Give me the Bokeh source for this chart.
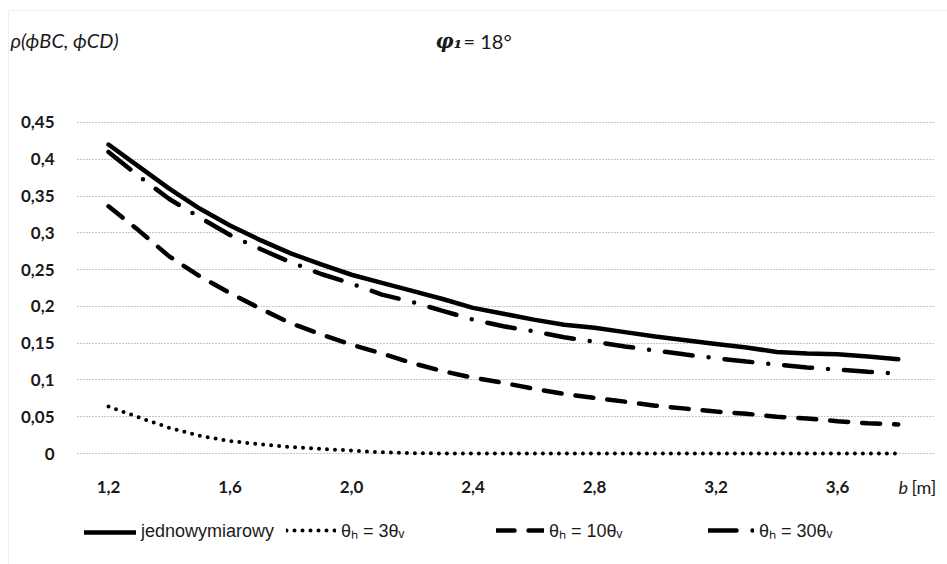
from bokeh.plotting import figure
from bokeh.models import (Legend, LegendItem, Label, FixedTicker, BoxAnnotation, Range1d)
from bokeh.embed import file_html
from bokeh.resources import INLINE

# ---- data ----
b_values = [1.2, 1.3, 1.4, 1.5, 1.6, 1.7, 1.8, 1.9, 2.0, 2.1, 2.2, 2.3, 2.4,
            2.5, 2.6, 2.7, 2.8, 2.9, 3.0, 3.1, 3.2, 3.3, 3.4, 3.5, 3.6, 3.7, 3.8]
rho_jednowymiarowy = [0.420, 0.390, 0.360, 0.333, 0.310, 0.290, 0.272, 0.257, 0.243,
                      0.232, 0.221, 0.210, 0.198, 0.190, 0.182, 0.175, 0.171, 0.165,
                      0.159, 0.154, 0.149, 0.144, 0.138, 0.136, 0.135, 0.132, 0.128]
rho_3 = [0.064, 0.049, 0.035, 0.024, 0.017, 0.0125, 0.0087, 0.0063, 0.004,
         0.0016, 0.0005, 0.0, 0.0, 0.0, 0.0, 0.0, 0.0, 0.0,
         0.0, 0.0, 0.0, 0.0, 0.0, 0.0, 0.0, 0.0, 0.0]
rho_10 = [0.336, 0.303, 0.268, 0.241, 0.218, 0.197, 0.177, 0.162, 0.148,
          0.136, 0.123, 0.112, 0.103, 0.096, 0.088, 0.081, 0.0755, 0.0705,
          0.065, 0.061, 0.057, 0.054, 0.050, 0.0476, 0.044, 0.041, 0.0394]
rho_30 = [0.410, 0.377, 0.346, 0.321, 0.297, 0.278, 0.260, 0.244, 0.231,
          0.216, 0.206, 0.194, 0.182, 0.173, 0.166, 0.158, 0.152, 0.1455,
          0.140, 0.1345, 0.1295, 0.125, 0.121, 0.117, 0.114, 0.111, 0.1085]

x_ticks = [1.2, 1.6, 2.0, 2.4, 2.8, 3.2, 3.6]
x_tick_labels = ["1,2", "1,6", "2,0", "2,4", "2,8", "3,2", "3,6"]
y_ticks = [0.0, 0.05, 0.1, 0.15, 0.2, 0.25, 0.3, 0.35, 0.4, 0.45]
y_tick_labels = ["0", "0,05", "0,1", "0,15", "0,2", "0,25", "0,3", "0,35", "0,4", "0,45"]

series_labels = ["jednowymiarowy", "θₕ = 3θᵥ", "θₕ = 10θᵥ", "θₕ = 30θᵥ"]

W, H = 947, 564

# pixel -> data helpers (layout only: plot area runs from px 77 to 935, y 0 at px 453)
def dx(px):
    return 1.2 + (px - 108) / 303.75

def dy(py):
    return (453 - py) / 735.6

# ---- figure (frame covers the whole canvas, axes are fixed inside) ----
p = figure(width=W, height=H, output_backend="svg", toolbar_location=None,
           x_range=Range1d(dx(0), dx(W)), y_range=Range1d(dy(H), dy(0)),
           min_border_left=0, min_border_right=0, min_border_top=0,
           min_border_bottom=0)
p.title.visible = False
p.outline_line_color = None
p.background_fill_color = "white"
p.border_fill_color = "white"

p.xgrid.visible = False
p.ygrid.ticker = FixedTicker(ticks=y_ticks)
p.ygrid.cross_bounds = (dx(77), dx(935))
p.ygrid.grid_line_color = "#8c8c8c"
p.ygrid.grid_line_dash = "1 2"
p.ygrid.grid_line_width = 1

for ax in (p.xaxis[0], p.yaxis[0]):
    ax.axis_line_color = None
    ax.major_tick_line_color = None
    ax.minor_tick_line_color = None
    ax.major_label_text_font = "Lato"
    ax.major_label_text_font_style = "bold"
    ax.major_label_text_font_size = "17px"
    ax.major_label_text_color = "#1a1a1a"

p.xaxis.ticker = FixedTicker(ticks=x_ticks)
p.xaxis.major_label_overrides = {t: l for t, l in zip(x_ticks, x_tick_labels)}
p.xaxis.fixed_location = dy(457)
p.xaxis.major_label_standoff = 17
p.yaxis.ticker = FixedTicker(ticks=y_ticks)
p.yaxis.major_label_overrides = {t: l for t, l in zip(y_ticks, y_tick_labels)}
p.yaxis.fixed_location = dx(77)
p.yaxis.major_label_standoff = 17

# ---- series ----
r1 = p.line(b_values, rho_jednowymiarowy, line_color="black", line_width=4.5,
            line_cap="round", line_join="round")
r2 = p.line(b_values, rho_3, line_color="black", line_width=4,
            line_dash="0 8", line_cap="round")
r3 = p.line(b_values, rho_10, line_color="black", line_width=4.5,
            line_dash="18 14", line_cap="round")
r4 = p.line(b_values, rho_30, line_color="black", line_width=4.5,
            line_dash="28 16 0 16", line_cap="round")

# ---- legends (one per item, placed below the plot area) ----
legend_x = [84, 286, 496, 708]
glyph_w = [52, 50, 48, 46]
for r, lab, lx, gw in zip([r1, r2, r3, r4], series_labels, legend_x, glyph_w):
    leg = Legend(items=[LegendItem(label=lab, renderers=[r])], location=(lx, 22),
                 orientation="horizontal", glyph_width=gw, glyph_height=20,
                 label_standoff=5, padding=0, margin=0, spacing=0,
                 border_line_color=None, background_fill_alpha=0,
                 label_text_font="Liberation Sans",
                 label_text_font_size="18px",
                 label_text_color="#1a1a1a", label_height=20)
    p.add_layout(leg)

# ---- texts ----
p.add_layout(Label(x=dx(10), y=dy(39), text="ρ(ϕBC, ϕCD)", text_font="Lato",
                   text_font_style="italic", text_font_size="20px",
                   text_baseline="middle", text_align="left", text_color="#1a1a1a"))
p.add_layout(Label(x=dx(435), y=dy(40), text="φ₁", text_font="DejaVu Serif",
                   text_font_style="bold italic", text_font_size="20px",
                   text_baseline="middle", text_align="left", text_color="#1a1a1a"))
p.add_layout(Label(x=dx(463), y=dy(40), text="= 18°", text_font="Lato",
                   text_font_size="20px",
                   text_baseline="middle", text_align="left", text_color="#1a1a1a"))
p.add_layout(Label(x=dx(898), y=dy(486), text="b", text_font="Lato",
                   text_font_style="italic", text_font_size="18px",
                   text_baseline="middle", text_align="left", text_color="#1a1a1a"))
p.add_layout(Label(x=dx(911), y=dy(486), text="[m]", text_font="Lato",
                   text_font_size="18px",
                   text_baseline="middle", text_align="left", text_color="#1a1a1a"))

# outer chart border (top and left edges visible)
p.add_layout(BoxAnnotation(left=dx(8), right=dx(1200), top=dy(10), bottom=dy(900),
                           fill_alpha=0, line_color="#9a9a9a", line_dash="1 1",
                           line_width=1))

open("out.html", "w").write(file_html(p, INLINE))
